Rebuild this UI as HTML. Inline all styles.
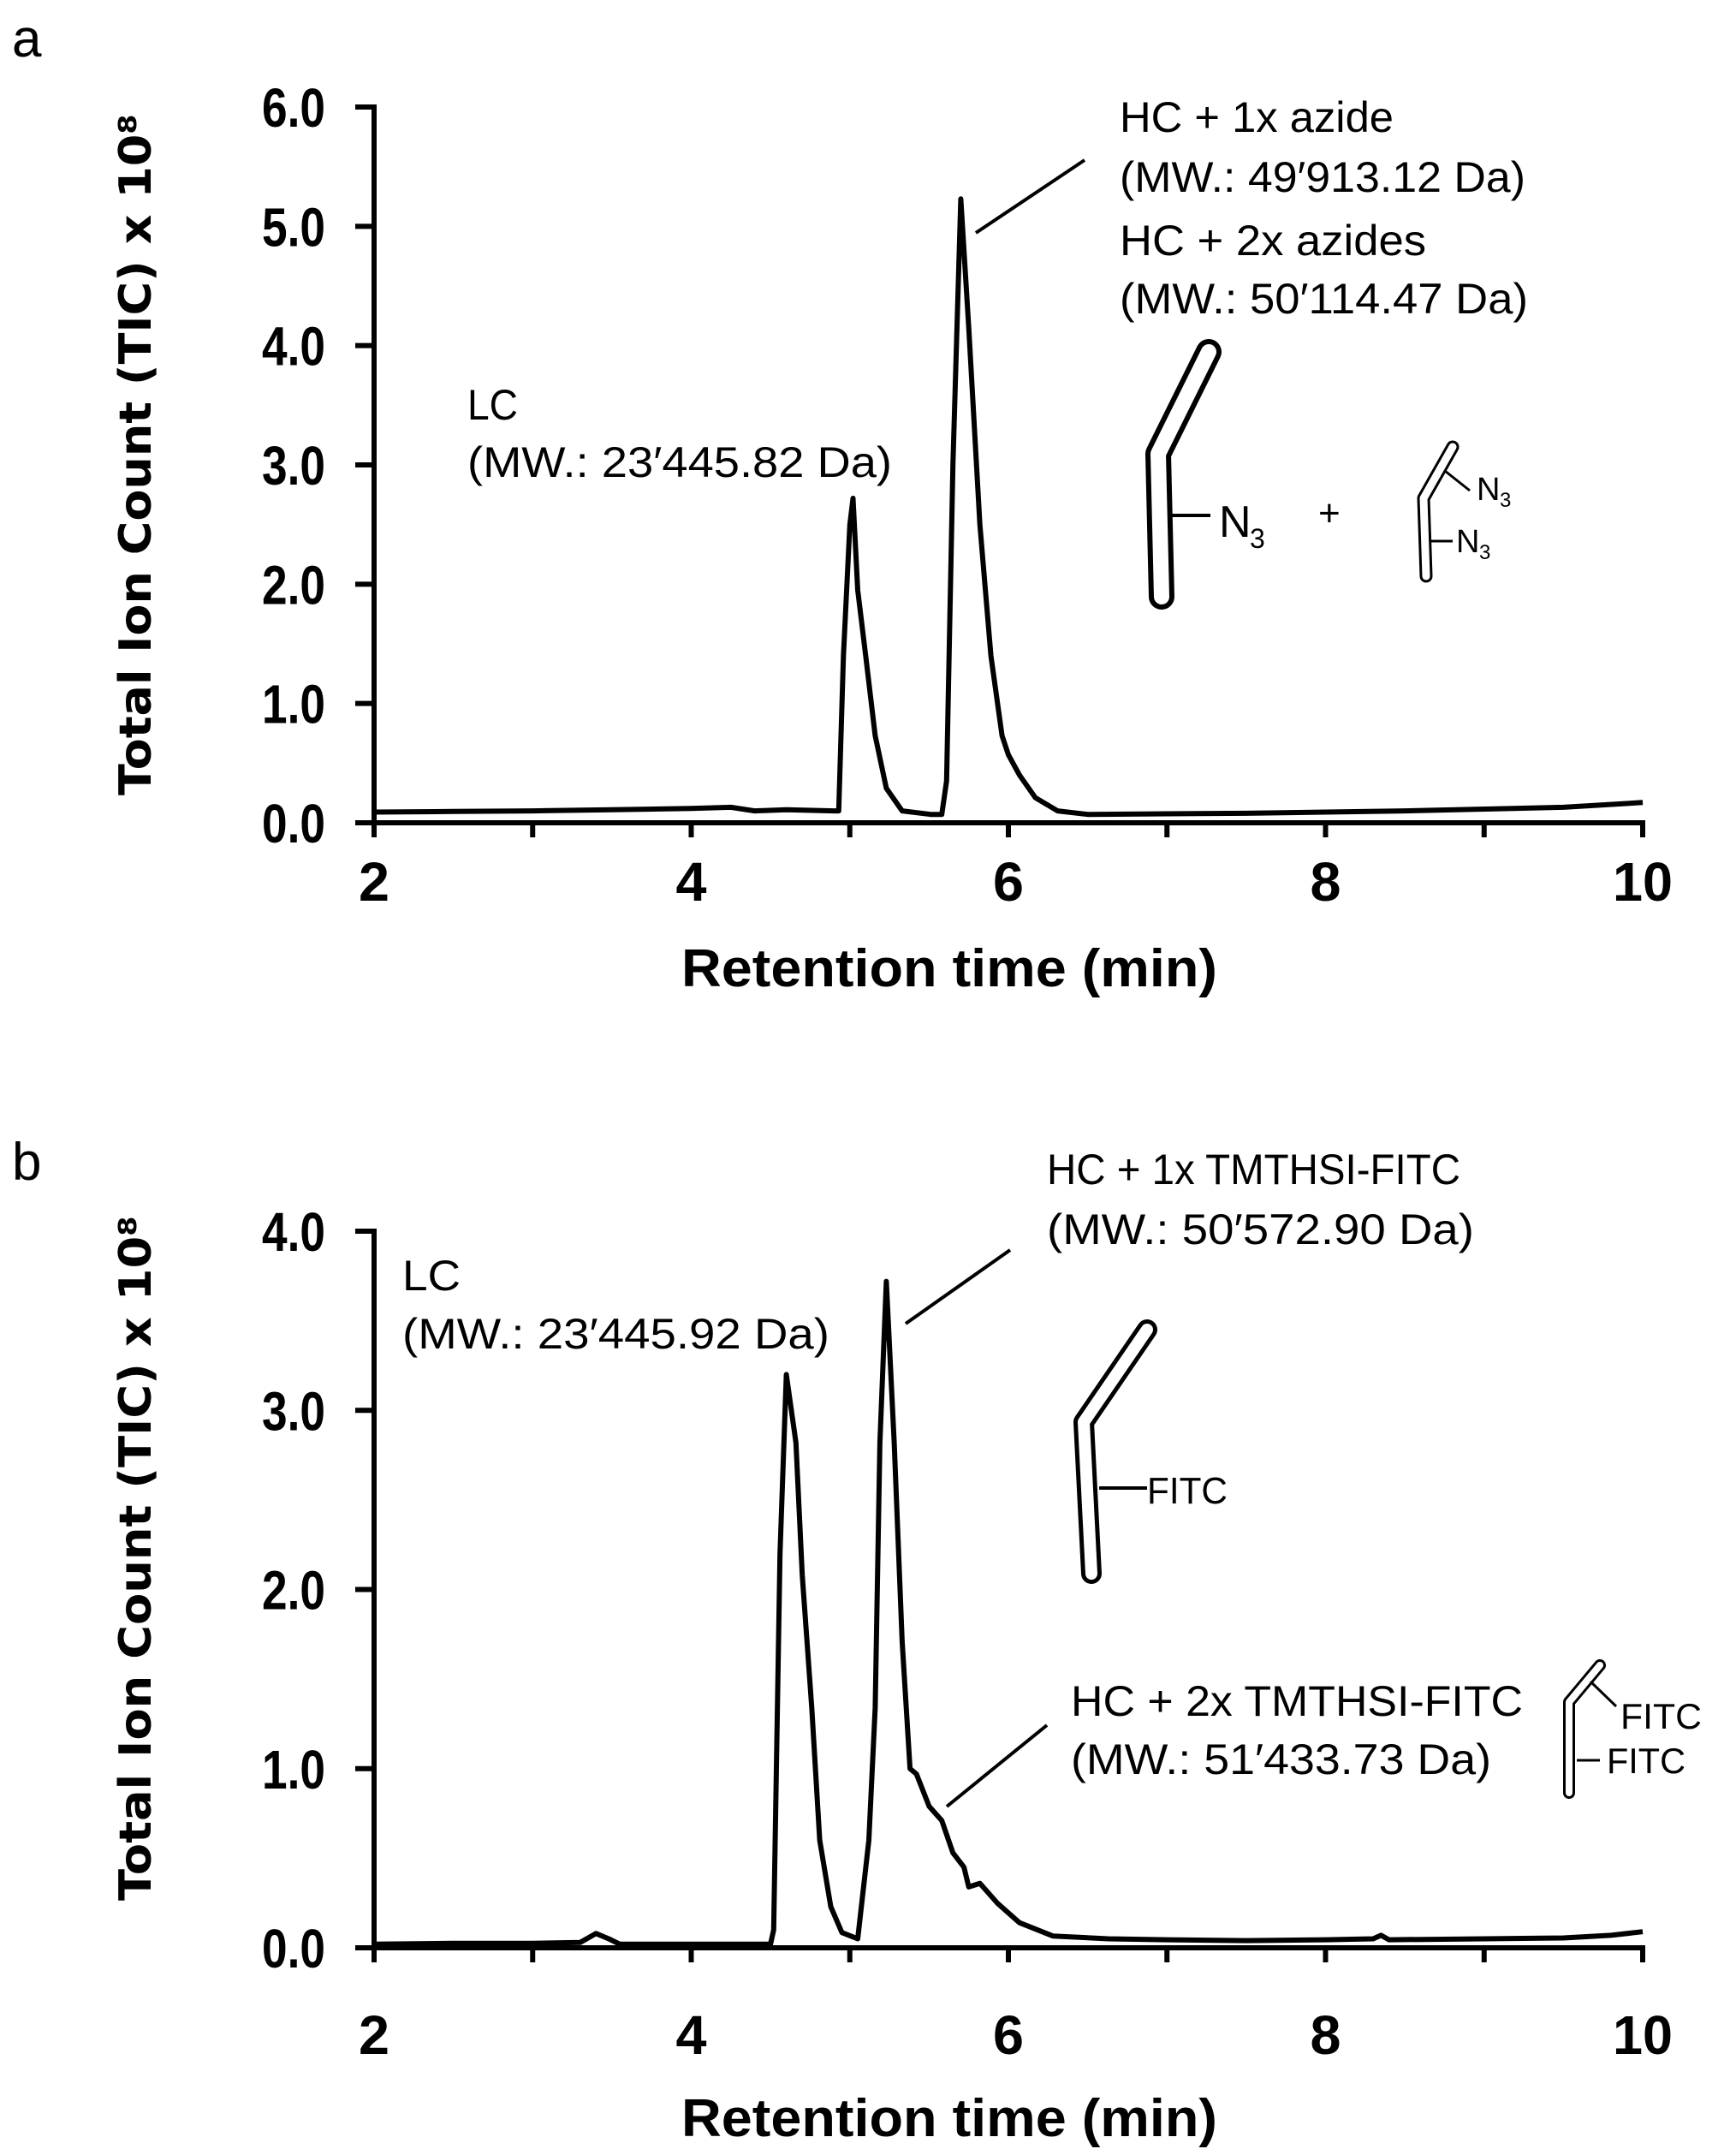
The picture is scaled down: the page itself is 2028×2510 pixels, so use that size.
<!DOCTYPE html>
<html><head><meta charset="utf-8"><style>
html,body{margin:0;padding:0;background:#fff;}
svg{display:block;}
.ann{font-family:"Liberation Sans",sans-serif;font-size:50px;fill:#000;}
.tick{font-family:"Liberation Sans",sans-serif;font-weight:bold;font-size:64px;fill:#000;}
.ttl{font-family:"Liberation Sans",sans-serif;font-weight:bold;font-size:62px;fill:#000;}
.ytl{font-family:"DejaVu Sans",sans-serif;font-weight:bold;font-size:52px;fill:#000;}
</style></head><body>
<svg id="fig" width="2028" height="2510" viewBox="0 0 2028 2510" xmlns="http://www.w3.org/2000/svg">
<rect width="2028" height="2510" fill="#fff"/>
<text x="14" y="66" class="ann" style="font-size:62px">a</text>
<text x="14" y="1378" class="ann" style="font-size:62px">b</text>

<g>
<text class="ann" x="1308" y="154" textLength="320" lengthAdjust="spacingAndGlyphs">HC + 1x azide</text>
<text class="ann" x="1308" y="224" textLength="474" lengthAdjust="spacingAndGlyphs">(MW.: 49′913.12 Da)</text>
<text class="ann" x="1308" y="298" textLength="358" lengthAdjust="spacingAndGlyphs">HC + 2x azides</text>
<text class="ann" x="1308" y="366" textLength="477" lengthAdjust="spacingAndGlyphs">(MW.: 50′114.47 Da)</text>
<line x1="1267" y1="187" x2="1140" y2="272" stroke="#000" stroke-width="4"/>
<text class="ann" x="546" y="490" textLength="59" lengthAdjust="spacingAndGlyphs">LC</text>
<text class="ann" x="546" y="557" textLength="496" lengthAdjust="spacingAndGlyphs">(MW.: 23′445.82 Da)</text>
<g>
<polyline points="1357,697 1353,530 1412,411" fill="none" stroke="#000" stroke-width="30" stroke-linecap="round" stroke-linejoin="round"/>
<polyline points="1357,697 1353,530 1412,411" fill="none" stroke="#fff" stroke-width="18" stroke-linecap="round" stroke-linejoin="round"/>
<line x1="1366" y1="602" x2="1414" y2="602" stroke="#000" stroke-width="4"/>
<text class="ann" x="1424" y="627" style="font-size:52px">N</text><text class="ann" x="1460" y="640" style="font-size:32px">3</text>
</g>
<text class="ann" x="1540" y="614" style="font-size:44px">+</text>
<g>
<polyline points="1666,673 1663,582 1697,522" fill="none" stroke="#000" stroke-width="15" stroke-linecap="round" stroke-linejoin="round"/>
<polyline points="1666,673 1663,582 1697,522" fill="none" stroke="#fff" stroke-width="9" stroke-linecap="round" stroke-linejoin="round"/>
<line x1="1688" y1="550" x2="1717" y2="573" stroke="#000" stroke-width="3"/>
<text class="ann" x="1725" y="584" style="font-size:38px">N</text><text class="ann" x="1752" y="592" style="font-size:24px">3</text>
<line x1="1672" y1="632" x2="1697" y2="632" stroke="#000" stroke-width="3"/>
<text class="ann" x="1701" y="645" style="font-size:38px">N</text><text class="ann" x="1728" y="653" style="font-size:24px">3</text>
</g>
</g>

<g>
<text class="ann" x="470" y="1507" textLength="68" lengthAdjust="spacingAndGlyphs">LC</text>
<text class="ann" x="470" y="1575" textLength="499" lengthAdjust="spacingAndGlyphs">(MW.: 23′445.92 Da)</text>
<text class="ann" x="1223" y="1383" textLength="483" lengthAdjust="spacingAndGlyphs">HC + 1x TMTHSI-FITC</text>
<text class="ann" x="1223" y="1453" textLength="499" lengthAdjust="spacingAndGlyphs">(MW.: 50′572.90 Da)</text>
<line x1="1180" y1="1460" x2="1058" y2="1546" stroke="#000" stroke-width="4"/>
<text class="ann" x="1251" y="2004" textLength="528" lengthAdjust="spacingAndGlyphs">HC + 2x TMTHSI-FITC</text>
<text class="ann" x="1251" y="2072" textLength="491" lengthAdjust="spacingAndGlyphs">(MW.: 51′433.73 Da)</text>
<line x1="1223" y1="2015" x2="1106" y2="2110" stroke="#000" stroke-width="4"/>
<g>
<polyline points="1275,1838 1266,1661 1340,1553" fill="none" stroke="#000" stroke-width="24" stroke-linecap="round" stroke-linejoin="round"/>
<polyline points="1275,1838 1266,1661 1340,1553" fill="none" stroke="#fff" stroke-width="14" stroke-linecap="round" stroke-linejoin="round"/>
<line x1="1284" y1="1738" x2="1340" y2="1738" stroke="#000" stroke-width="4"/>
<text class="ann" x="1340" y="1756" style="font-size:44px" textLength="94" lengthAdjust="spacingAndGlyphs">FITC</text>
</g>
<g>
<polyline points="1833,2094 1833,1988 1869,1945" fill="none" stroke="#000" stroke-width="14" stroke-linecap="round" stroke-linejoin="round"/>
<polyline points="1833,2094 1833,1988 1869,1945" fill="none" stroke="#fff" stroke-width="8" stroke-linecap="round" stroke-linejoin="round"/>
<line x1="1858" y1="1964" x2="1888" y2="1993" stroke="#000" stroke-width="3"/>
<text class="ann" x="1893" y="2019" style="font-size:42px" textLength="95" lengthAdjust="spacingAndGlyphs">FITC</text>
<line x1="1842" y1="2056" x2="1869" y2="2056" stroke="#000" stroke-width="3"/>
<text class="ann" x="1877" y="2071" style="font-size:42px" textLength="92" lengthAdjust="spacingAndGlyphs">FITC</text>
</g>
</g>
<g id="charts"></g>
</svg>
<script>
// Panel a data (retention time in min, TIC x 1e8)
const aTime = [2,2.5,3,3.5,4,4.25,4.4,4.6,4.9,4.93,4.96,5.0,5.02,5.05,5.10,5.16,5.23,5.33,5.51,5.58,5.61,5.65,5.70,5.75,5.82,5.89,5.96,6.0,6.07,6.17,6.31,6.5,7,7.5,8,8.5,9,9.5,10];
const aTic  = [0.09,0.095,0.10,0.11,0.12,0.13,0.10,0.11,0.10,0.10,1.4,2.5,2.72,1.95,1.4,0.73,0.29,0.10,0.07,0.07,0.35,3.0,5.23,4.15,2.5,1.4,0.73,0.57,0.40,0.21,0.10,0.07,0.075,0.08,0.09,0.10,0.115,0.13,0.17];
// Panel b data
const bTime = [2,2.5,3,3.3,3.4,3.48,3.55,4,4.5,4.52,4.56,4.60,4.66,4.70,4.76,4.81,4.88,4.95,5.05,5.12,5.16,5.19,5.23,5.28,5.33,5.38,5.42,5.50,5.58,5.65,5.72,5.75,5.82,5.93,6.07,6.28,6.63,7,7.5,8,8.3,8.35,8.4,9,9.5,9.8,10];
const bTic  = [0.02,0.025,0.025,0.03,0.08,0.05,0.02,0.02,0.02,0.1,2.2,3.2,2.82,2.08,1.34,0.6,0.23,0.085,0.05,0.6,1.34,2.82,3.72,2.82,1.71,1.0,0.97,0.79,0.71,0.53,0.45,0.34,0.36,0.25,0.14,0.066,0.05,0.045,0.04,0.045,0.05,0.07,0.045,0.05,0.055,0.07,0.09];
const xTicks = [2,4,6,8,10];
const aYTicks = ["0.0","1.0","2.0","3.0","4.0","5.0","6.0"];
const bYTicks = ["0.0","1.0","2.0","3.0","4.0"];

const NS = "http://www.w3.org/2000/svg";
const root = document.getElementById('charts');
function mk(tag, attrs, parent){ const e=document.createElementNS(NS,tag); for(const k in attrs) e.setAttribute(k,attrs[k]); parent.appendChild(e); return e; }

function panel(id, x0px, x1px, y0px, ymaxPx, ymax, times, vals, yTicks, xLblY, xTitleY, yTitleCy, yTitleLen){
  const g = mk('g',{},root);
  
  
  const sx = t => x0px + (t-2)*(x1px-x0px)/8;
  const sy = v => y0px - v*(y0px-ymaxPx)/ymax;
  const pts = times.map((t,i)=> sx(t).toFixed(1)+','+sy(vals[i]).toFixed(1)).join(' ');
  const line = mk('polyline',{points:pts,fill:'none',stroke:'#000','stroke-width':6,'stroke-linejoin':'round'},g);
  
  
  const ya = mk('line',{x1:x0px,y1:ymaxPx-3,x2:x0px,y2:y0px+17,stroke:'#000','stroke-width':6},g);
  
  
  const xa = mk('line',{x1:x0px-22,y1:y0px,x2:x1px+3,y2:y0px,stroke:'#000','stroke-width':6},g);
  
  
  yTicks.forEach((lbl,i)=>{
    const v = parseFloat(lbl); const y = sy(v);
    mk('line',{x1:x0px-22,y1:y,x2:x0px,y2:y,stroke:'#000','stroke-width':6},g);
    const t = mk('text',{x:380,y:y+23,'text-anchor':'end',class:'tick',textLength:74,lengthAdjust:'spacingAndGlyphs'},g);
    t.textContent = lbl;
    
    
  });
  for(let m=2;m<=10;m++){
    mk('line',{x1:sx(m),y1:y0px,x2:sx(m),y2:y0px+17,stroke:'#000','stroke-width':6},g);
  }
  xTicks.forEach(v=>{
    const t = mk('text',{x:sx(v),y:xLblY,'text-anchor':'middle',class:'tick',textLength:v>=10?70:36,lengthAdjust:'spacingAndGlyphs'},g);
    t.textContent = String(v);
    
    
  });
  const xt = mk('text',{x:1109,y:xTitleY,'text-anchor':'middle',class:'ttl',textLength:626,lengthAdjust:'spacingAndGlyphs'},g);
  xt.textContent = 'Retention time (min)';
  
  
  const yt = mk('text',{x:0,y:0,'text-anchor':'middle',class:'ytl',textLength:yTitleLen,lengthAdjust:'spacingAndGlyphs',transform:'translate(176,'+yTitleCy+') rotate(-90)'},g);
  yt.textContent = 'Total Ion Count (TIC) x 10⁸';
  
  
}
panel('chart-panel-a', 437, 1919, 961, 125, 6, aTime, aTic, aYTicks, 1052, 1152, 531, 796);
panel('chart-panel-b', 437, 1919, 2275, 1438, 4, bTime, bTic, bYTicks, 2399, 2495, 1820, 800);
</script>
</body></html>
